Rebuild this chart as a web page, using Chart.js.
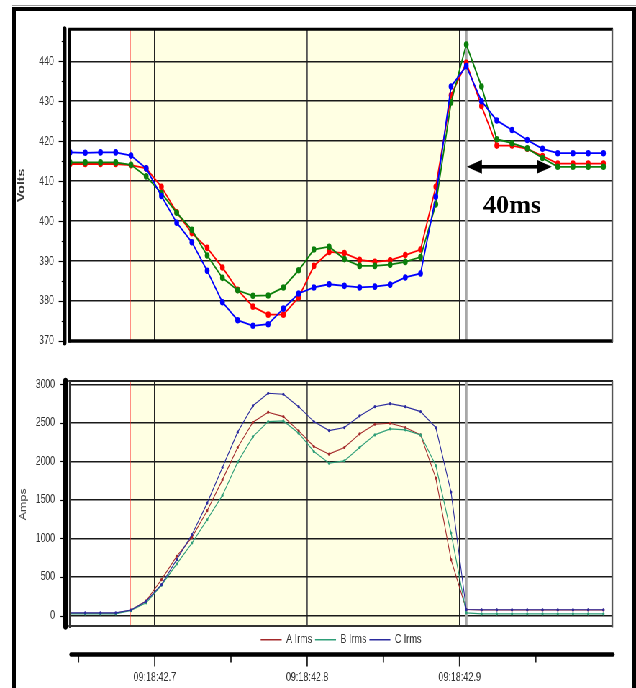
<!DOCTYPE html>
<html><head><meta charset="utf-8">
<script src="https://cdn.jsdelivr.net/npm/chart.js@4.4.1/dist/chart.umd.min.js"></script>
<style>
html,body{margin:0;padding:0;background:#fff;width:636px;height:688px;overflow:hidden;}
#wrap{position:absolute;left:0;top:0;width:884px;height:688px;transform-origin:0 0;}
#wrap canvas{position:absolute;left:0;top:0;}
.fr{position:absolute;}
</style></head><body>
<div id="wrap">
<canvas id="cv" width="884" height="688"></canvas>
<canvas id="ca" width="884" height="688"></canvas>
<canvas id="ct" width="884" height="688"></canvas>
</div>
<div class="fr" style="left:12px;top:5px;width:624px;height:1px;background:#9a9a9a"></div>
<div class="fr" style="left:12px;top:7px;width:624px;height:4px;background:#000"></div>
<div class="fr" style="left:12px;top:7px;width:4px;height:681px;background:#000"></div>
<div class="fr" style="left:632px;top:7px;width:4px;height:681px;background:#000"></div>
<script>
// ---- data ----
const times = [42.6444,42.6544,42.6644,42.6744,42.6844,42.6944,42.7044,42.7144,42.7244,42.7344,42.7444,42.7544,42.7644,42.7744,42.7844,42.7944,42.8044,42.8144,42.8244,42.8344,42.8444,42.8544,42.8644,42.8744,42.8844,42.8944,42.9044,42.9144,42.9244,42.9344,42.9444,42.9544,42.9644,42.9744,42.9844,42.9944];
const voltA = [414.3,414.3,414.3,414.3,414.0,413.2,408.6,402.2,397.0,393.3,388.4,382.8,378.6,376.6,376.6,380.9,388.8,392.3,392.0,390.3,389.8,390.2,391.5,392.9,408.6,431.5,439.6,428.8,418.9,418.9,418.1,416.3,414.4,414.4,414.4,414.4];
const voltB = [414.7,414.7,414.7,414.7,414.1,411.2,407.0,402.1,397.8,391.4,385.8,382.7,381.3,381.4,383.4,387.7,392.9,393.6,390.5,388.8,388.8,389.1,389.8,391.0,404.2,429.7,444.2,433.7,420.5,419.5,418.2,415.8,413.6,413.6,413.6,413.6];
const voltC = [417.2,417.1,417.2,417.2,416.4,413.2,406.3,399.6,394.7,387.6,379.7,375.2,373.8,374.2,378.1,381.9,383.4,384.2,383.8,383.4,383.6,384.1,385.9,386.9,406.1,433.7,438.8,430.0,425.2,422.8,420.3,418.1,417.0,417.0,417.0,417.0];
const ampA = [30,30,30,30,70,190,466,768,1014,1360,1761,2180,2508,2638,2581,2396,2193,2094,2180,2357,2482,2495,2439,2344,1783,725,78,72,72,72,72,72,72,72,72,72];
const ampB = [22,22,22,22,65,165,393,669,941,1243,1558,1990,2322,2516,2525,2366,2128,1977,2007,2180,2344,2422,2409,2344,1946,1071,35,22,22,22,22,22,22,22,22,22];
const ampC = [35,35,35,35,72,185,401,725,1049,1459,1921,2379,2723,2884,2871,2710,2516,2400,2439,2590,2710,2749,2710,2646,2439,1602,78,75,75,75,75,75,75,75,75,75];
const voltNames = ['A V','B V','C V'];
const ampNames = ['A Irms','B Irms','C Irms'];
const voltTicks = [370,380,390,400,410,420,430,440];
const ampTicks = [0,500,1000,1500,2000,2500,3000];
const gridTimes = [42.7,42.8,42.9];
const timeLabels = ['09:18:42.7','09:18:42.8','09:18:42.9'];
const annotationText = '40ms';

// ---- layout helpers ----
const S = 636/884;
const U = v => v / S;
document.getElementById('wrap').style.transform = 'scaleX(' + S + ')';
const FONT = '"Liberation Sans", Arial, sans-serif';
const X_MIN = 42.6444, X_MAX = 43.0;
const EVENT_START = 42.6838, EVENT_END = 42.9, CURSOR2 = 42.9044;
const pts = vals => vals.map((v,i) => ({x: times[i], y: v}));

function vline(ctx, x, y0, y1, color, w, cap) {
  ctx.save(); ctx.strokeStyle = color; ctx.lineWidth = w; if (cap) ctx.lineCap = cap;
  ctx.beginPath(); ctx.moveTo(x, y0); ctx.lineTo(x, y1); ctx.stroke(); ctx.restore();
}
function hline(ctx, x0, x1, y, color, w, cap) {
  ctx.save(); ctx.strokeStyle = color; ctx.lineWidth = w; if (cap) ctx.lineCap = cap;
  ctx.beginPath(); ctx.moveTo(x0, y); ctx.lineTo(x1, y); ctx.stroke(); ctx.restore();
}

const shade = {
  id: 'shade',
  beforeDraw(chart) {
    const {ctx, chartArea: a, scales: {x}} = chart;
    const x0 = x.getPixelForValue(EVENT_START), x1 = x.getPixelForValue(EVENT_END);
    ctx.save(); ctx.fillStyle = '#ffffe3'; ctx.fillRect(x0, a.top, x1 - x0, a.bottom - a.top); ctx.restore();
  },
  beforeDatasetsDraw(chart) {
    const {ctx, chartArea: a, scales: {x}} = chart;
    vline(ctx, x.getPixelForValue(CURSOR2), a.top, a.bottom, '#a8a8a8', U(2.4));
    vline(ctx, x.getPixelForValue(EVENT_START), a.top, a.bottom, '#ff2a2a', U(1.1));
  }
};

function frame(cfg) {
  return {
    id: 'frame',
    afterDraw(chart) {
      const {ctx, chartArea: a, scales: {x, y}} = chart;
      if (cfg.annotate) {
        const ax0 = x.getPixelForValue(42.9048), ax1 = x.getPixelForValue(42.9605), ay = y.getPixelForValue(413.6);
        const hl = U(15), hh = 7;
        ctx.save(); ctx.fillStyle = '#000';
        ctx.fillRect(ax0 + hl - 1, ay - 1.8, ax1 - ax0 - 2*hl + 2, 3.6);
        ctx.beginPath(); ctx.moveTo(ax0, ay); ctx.lineTo(ax0 + hl, ay - hh); ctx.lineTo(ax0 + hl, ay + hh); ctx.closePath(); ctx.fill();
        ctx.beginPath(); ctx.moveTo(ax1, ay); ctx.lineTo(ax1 - hl, ay - hh); ctx.lineTo(ax1 - hl, ay + hh); ctx.closePath(); ctx.fill();
        ctx.translate(x.getPixelForValue(42.9344), y.getPixelForValue(402.0));
        ctx.scale(1 / S, 1);
        ctx.font = 'bold 26px "Liberation Serif", "Times New Roman", serif';
        ctx.textAlign = 'center'; ctx.textBaseline = 'alphabetic';
        ctx.fillText(annotationText, 0, 0);
        ctx.restore();
      }
      // plot borders
      hline(ctx, a.left - U(1.5), a.right + U(1), a.top + cfg.topOff, cfg.topColor, cfg.topW);
      hline(ctx, a.left - U(1.5), a.right + U(1), a.bottom + cfg.botOff, cfg.botColor, cfg.botW);
      vline(ctx, a.left + U(cfg.leftOff), a.top - 1, a.bottom + 1.5, cfg.leftColor, U(cfg.leftW));
      vline(ctx, a.right + U(0.3), a.top - 1, a.bottom + 1, '#555', U(1.7));
      // axis line and ticks
      const axX = a.left - U(cfg.axisGap);
      ctx.save(); ctx.strokeStyle = '#000'; ctx.lineWidth = 1.2;
      for (let v = cfg.tMin; v <= cfg.tMax + 1e-6; v += cfg.minor) {
        const py = Math.round(y.getPixelForValue(v)) + 0.5;
        const major = Math.abs(v / cfg.major - Math.round(v / cfg.major)) < 1e-6;
        const len = U(major ? cfg.majLen : cfg.minLen);
        ctx.beginPath(); ctx.moveTo(axX - len, py); ctx.lineTo(axX, py); ctx.stroke();
      }
      ctx.restore();
      vline(ctx, axX, a.top + cfg.axTop, a.bottom + cfg.axBot, '#000', U(cfg.axisW), 'round');
    }
  };
}

const xScale = (h) => ({
  type: 'linear', min: X_MIN, max: X_MAX,
  afterBuildTicks: s => { s.ticks = gridTimes.map(v => ({value: v})); },
  afterFit: s => { s.height = h; },
  ticks: {display: false},
  grid: {color: (c) => c.index === 1 ? '#555' : '#222', lineWidth: U(1.3), drawTicks: false},
  border: {display: false}
});

// ---- top chart: Volts ----
new Chart(document.getElementById('cv'), {
  type: 'line',
  data: {datasets: [
    {label: voltNames[0], data: pts(voltA), borderColor: '#ff0000', backgroundColor: '#ff0000', pointBackgroundColor: '#ff0000', order: 2},
    {label: voltNames[1], data: pts(voltB), borderColor: '#0b7f0b', backgroundColor: '#0b7f0b', pointBackgroundColor: '#0b7f0b', order: 1},
    {label: voltNames[2], data: pts(voltC), borderColor: '#0000ff', backgroundColor: '#0000ff', pointBackgroundColor: '#0000ff', order: 0}
  ]},
  options: {
    responsive: false, animation: false, devicePixelRatio: 1,
    elements: {line: {borderWidth: 1.8, tension: 0}, point: {radius: 3.3, borderWidth: 0, hoverRadius: 3.3}},
    layout: {padding: {left: 0, right: U(24), top: 21, bottom: 688 - 341}},
    plugins: {legend: {display: false}, tooltip: {enabled: false}},
    scales: {
      x: xScale(0),
      y: {
        min: 370, max: 447.9,
        afterBuildTicks: s => { s.ticks = voltTicks.map(v => ({value: v})); },
        afterFit: s => { s.width = U(70); },
        ticks: {font: {family: FONT, size: 12.5}, color: '#333', padding: U(16), callback: v => String(v)},
        grid: {color: '#1a1a1a', lineWidth: 1.6, drawTicks: false},
        border: {display: false},
        title: {display: true, text: 'Volts', color: '#3a3a3a', font: {family: FONT, size: 14, weight: 'bold'}, padding: {top: 22, bottom: 0}}
      }
    }
  },
  plugins: [shade, frame({annotate: true, topOff: -0.5, topColor: '#000', topW: 3, botOff: 0, botColor: '#000', botW: 3.4,
    leftOff: -0.3, leftColor: '#000', leftW: 2.7, axisGap: 5.3, axisW: 3.6, axTop: -1, axBot: 2,
    tMin: 370, tMax: 445, minor: 5, major: 10, majLen: 6, minLen: 3})]
});

// ---- bottom chart: Amps ----
new Chart(document.getElementById('ca'), {
  type: 'line',
  data: {datasets: [
    {label: ampNames[0], data: pts(ampA), borderColor: '#a3282a', backgroundColor: '#a3282a', pointBackgroundColor: '#a3282a', order: 2},
    {label: ampNames[1], data: pts(ampB), borderColor: '#2e9e78', backgroundColor: '#2e9e78', pointBackgroundColor: '#2e9e78', order: 1},
    {label: ampNames[2], data: pts(ampC), borderColor: '#2b2b9e', backgroundColor: '#2b2b9e', pointBackgroundColor: '#2b2b9e', order: 0}
  ]},
  options: {
    responsive: false, animation: false, devicePixelRatio: 1,
    elements: {line: {borderWidth: 1.1, tension: 0}, point: {radius: 1.6, borderWidth: 0, hoverRadius: 1.6}},
    layout: {padding: {left: 0, right: U(24), top: 382, bottom: 32}},
    plugins: {
      tooltip: {enabled: false},
      legend: {display: true, position: 'bottom', fullSize: false, align: 'center',
        labels: {usePointStyle: true, pointStyle: 'line', pointStyleWidth: U(21), padding: 4,
          font: {family: FONT, size: 12.5}, color: '#333',
          generateLabels: chart => Chart.defaults.plugins.legend.labels.generateLabels(chart)
            .map(l => Object.assign(l, {lineWidth: 1.6, pointStyle: 'line', strokeStyle: chart.data.datasets[l.datasetIndex].borderColor}))
            .sort((a, b) => a.datasetIndex - b.datasetIndex)}}
    },
    scales: {
      x: xScale(3),
      y: {
        min: -142, max: 3030,
        afterBuildTicks: s => { s.ticks = ampTicks.map(v => ({value: v})); },
        afterFit: s => { s.width = U(70); },
        ticks: {font: {family: FONT, size: 12}, color: '#333', padding: U(15), callback: v => String(v)},
        grid: {color: '#1a1a1a', lineWidth: 1.6, drawTicks: false},
        border: {display: false},
        title: {display: true, text: 'Amps', color: '#444', font: {family: FONT, size: 12.5}, padding: {top: 25, bottom: 0}}
      }
    }
  },
  plugins: [shade, frame({annotate: false, topOff: -1, topColor: '#222', topW: 2, botOff: -0.5, botColor: '#333', botW: 2,
    leftOff: 0, leftColor: '#333', leftW: 2, axisGap: 4.5, axisW: 4.5, axTop: -1, axBot: 0,
    tMin: -100, tMax: 3000, minor: 100, major: 500, majLen: 5, minLen: 2.5})]
});

// ---- shared time axis ----
const timeAxisDeco = {
  id: 'timeAxisDeco',
  afterDraw(chart) {
    const {ctx, chartArea: a, scales: {x}} = chart;
    const y0 = a.bottom + 0.5;
    gridTimes.forEach((t, i) => {
      const px = x.getPixelForValue(t);
      vline(ctx, px, y0, y0 + 12, '#222', U(1.3));
      const pm = x.getPixelForValue(t - 0.05);
      vline(ctx, pm, y0, y0 + 8, '#222', U(1.3));
      if (i === gridTimes.length - 1) vline(ctx, x.getPixelForValue(t + 0.05), y0, y0 + 8, '#222', U(1.3));
    });
    hline(ctx, a.left + U(1), a.right + U(1), y0, '#000', 4.6, 'round');
  }
};
new Chart(document.getElementById('ct'), {
  type: 'scatter',
  data: {datasets: []},
  options: {
    responsive: false, animation: false, devicePixelRatio: 1,
    layout: {padding: {left: U(70), right: U(24), top: 600, bottom: 0}},
    plugins: {legend: {display: false}, tooltip: {enabled: false}},
    scales: {
      x: {type: 'linear', min: X_MIN, max: X_MAX, position: 'bottom',
        afterBuildTicks: s => { s.ticks = gridTimes.map(v => ({value: v})); },
        afterFit: s => { s.height = 34; },
        ticks: {callback: (v, i) => timeLabels[i], font: {family: FONT, size: 12.5}, color: '#333', padding: 16, maxRotation: 0, autoSkip: false},
        grid: {display: false, drawTicks: false}, border: {display: false}},
      y: {display: false, min: 0, max: 1}
    }
  },
  plugins: [timeAxisDeco]
});
</script>
</body></html>
